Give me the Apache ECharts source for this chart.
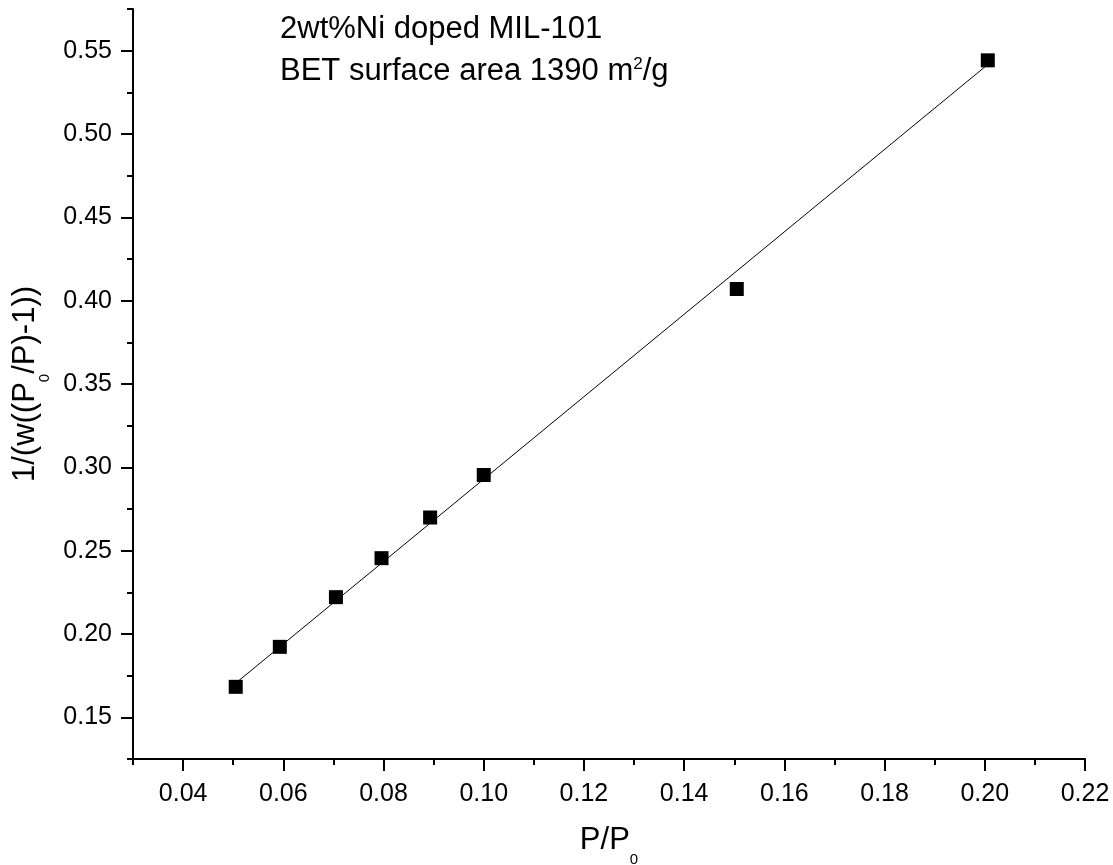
<!DOCTYPE html>
<html>
<head>
<meta charset="utf-8">
<script src="https://cdn.jsdelivr.net/npm/echarts@6.0.0/dist/echarts.min.js"></script>
<style>
  html, body { margin: 0; padding: 0; background: #fff; }
  #chart { width: 1113px; height: 865px; }
</style>
</head>
<body>
<div id="chart"></div>
<script>
// BET plot data: relative pressure P/P0 and 1/(w((P0/P)-1))
const relPressure = [0.0505, 0.0593, 0.0705, 0.0796, 0.0893, 0.1000, 0.1505, 0.2006];
const betTerm     = [0.1683, 0.1923, 0.2221, 0.2455, 0.2699, 0.2954, 0.4070, 0.5442];

// Linear fit line end points
const fitX = [0.0505, 0.2006];
const fitY = [0.1705, 0.5417];

// Axis ranges and ticks
const xRange = [0.03, 0.22];
const yRange = [0.125, 0.575];
const xMajorTicks = [0.04, 0.06, 0.08, 0.10, 0.12, 0.14, 0.16, 0.18, 0.20, 0.22];
const xMinorTicks = [0.03, 0.05, 0.07, 0.09, 0.11, 0.13, 0.15, 0.17, 0.19, 0.21];
const yMajorTicks = [0.15, 0.20, 0.25, 0.30, 0.35, 0.40, 0.45, 0.50, 0.55];
const yMinorTicks = [0.125, 0.175, 0.225, 0.275, 0.325, 0.375, 0.425, 0.475, 0.525, 0.575];

// Annotation text
const sampleLine = '2wt%Ni doped MIL-101';
const areaLine = ['BET surface area 1390 m', '2', '/g'];
const xName = ['P/P', '0'];
const yName = ['1/(w((P', '0', '/P)-1))'];

const FONT = '"Liberation Sans", Arial, Helvetica, sans-serif';
const INK = '#000';
const TICK_FONT = 25;

// Axis titles: main text plus a lowered subscript
const nameRich = {
  m: { fontSize: 31, lineHeight: 36, verticalAlign: 'top', fontFamily: FONT, color: INK },
  s: { fontSize: 15, height: 69, verticalAlign: 'top', fontFamily: FONT, color: INK }
};

const fmt = v => Number(v).toFixed(2);

function majorAxis(range, ticks, extra) {
  return Object.assign({
    type: 'value',
    min: range[0],
    max: range[1],
    axisLine: { show: true, onZero: false, lineStyle: { color: INK, width: 2 } },
    axisTick: { show: true, customValues: ticks, length: 12, lineStyle: { color: INK, width: 2 } },
    splitLine: { show: false }
  }, extra);
}

function minorAxis(range, ticks, position) {
  return {
    type: 'value',
    min: range[0],
    max: range[1],
    position: position,
    axisLine: { show: false, onZero: false },
    axisTick: { show: true, customValues: ticks, length: 6, lineStyle: { color: INK, width: 2 } },
    axisLabel: { show: false },
    splitLine: { show: false }
  };
}

const chart = echarts.init(document.getElementById('chart'), null, { renderer: 'canvas' });

chart.setOption({
  animation: false,
  backgroundColor: '#fff',
  grid: { left: 133, right: 28, top: 9, bottom: 106, containLabel: false, outerBoundsMode: 'none' },
  title: [
    {
      text: sampleLine, left: 280, top: 11, padding: 0,
      textStyle: { fontSize: 31, fontWeight: 'normal', color: INK, fontFamily: FONT, lineHeight: 36 }
    },
    {
      text: '{m|' + areaLine[0] + '}{sup|' + areaLine[1] + '}{m|' + areaLine[2] + '}',
      left: 280, top: 56, padding: 0,
      textStyle: {
        fontWeight: 'normal', color: INK, fontFamily: FONT,
        rich: {
          m: { fontSize: 31, lineHeight: 36, verticalAlign: 'top', fontFamily: FONT, color: INK },
          sup: { fontSize: 17, lineHeight: 22, verticalAlign: 'top', fontFamily: FONT, color: INK }
        }
      }
    }
  ],
  xAxis: [
    majorAxis(xRange, xMajorTicks, {
      position: 'bottom',
      axisLabel: { customValues: xMajorTicks, formatter: fmt, fontSize: TICK_FONT, color: INK, fontFamily: FONT, margin: 23 },
      name: '{m|' + xName[0] + '}{s|' + xName[1] + '}',
      nameLocation: 'middle',
      nameGap: 66,
      nameTextStyle: { rich: nameRich }
    }),
    minorAxis(xRange, xMinorTicks, 'bottom')
  ],
  yAxis: [
    majorAxis(yRange, yMajorTicks, {
      position: 'left',
      axisLabel: { customValues: yMajorTicks, formatter: fmt, fontSize: TICK_FONT, color: INK, fontFamily: FONT, margin: 21 },
      name: '{m|' + yName[0] + '}{s|' + yName[1] + '}{m|' + yName[2] + '}',
      nameLocation: 'middle',
      nameGap: 47,
      nameRotate: 90,
      nameTextStyle: { rich: nameRich }
    }),
    minorAxis(yRange, yMinorTicks, 'left')
  ],
  series: [
    {
      name: 'fit',
      type: 'line',
      xAxisIndex: 0,
      yAxisIndex: 0,
      data: fitX.map((x, i) => [x, fitY[i]]),
      symbol: 'none',
      lineStyle: { color: INK, width: 1 },
      silent: true,
      z: 2
    },
    {
      name: 'BET',
      type: 'scatter',
      xAxisIndex: 0,
      yAxisIndex: 0,
      data: relPressure.map((x, i) => [x, betTerm[i]]),
      symbol: 'rect',
      symbolSize: 14,
      itemStyle: { color: INK, opacity: 1 },
      z: 3
    }
  ]
});
</script>
</body>
</html>
